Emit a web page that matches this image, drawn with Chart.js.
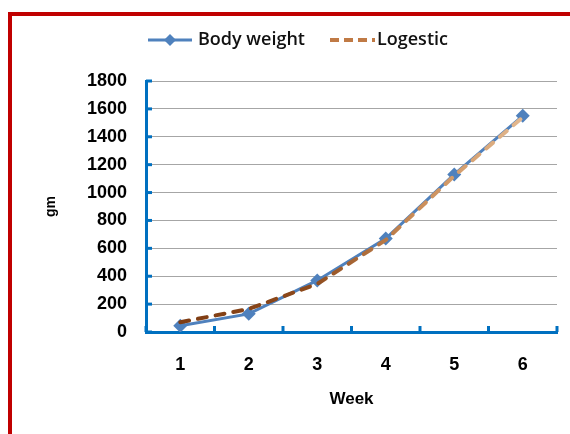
<!DOCTYPE html>
<html>
<head>
<meta charset="utf-8">
<script src="https://cdn.jsdelivr.net/npm/chart.js@4"></script>
<style>
  html, body { margin: 0; padding: 0; background: #fff; }
  #wrap { position: relative; width: 570px; height: 434px; overflow: hidden; }
  #frame { position: absolute; left: 8px; top: 12px; width: 600px; height: 460px;
           border-left: 4px solid #C00000; border-top: 4px solid #C00000; }
  canvas { position: absolute; left: 0; top: 0; }
</style>
</head>
<body>
<div id="wrap">
  <div id="frame"></div>
  <canvas id="myChart" width="570" height="434"></canvas>
</div>
<script>
// data
const weeks = ['1', '2', '3', '4', '5', '6'];
const bodyWeight = [45, 130, 370, 670, 1130, 1550];
const logestic = [70, 165, 345, 660, 1120, 1540];
const yMin = 0, yMax = 1800, yStep = 200;

const axisBlue = '#0070C0';
const tickFont = { family: 'Liberation Sans', size: 18, weight: 'bold' };

// brown -> tan gradient for the fitted curve
function logGradient(ctx) {
    const chart = ctx.chart;
    const area = chart.chartArea;
    if (!area) return '#8B4513';
    const g = chart.ctx.createLinearGradient(area.left, 0, area.right, 0);
    g.addColorStop(0, '#7A3810');
    g.addColorStop(0.4, '#8E4A1C');
    g.addColorStop(0.65, '#C98B56');
    g.addColorStop(1, '#EBC7A2');
    return g;
}

// inward tick marks + legend drawn like the original
const extras = {
    id: 'extras',
    afterDraw(chart) {
        const ctx = chart.ctx;
        const xs = chart.scales.x, ys = chart.scales.y;
        const area = chart.chartArea;
        ctx.save();
        ctx.strokeStyle = axisBlue;
        ctx.lineWidth = 3;
        const half = (xs.getPixelForValue(1) - xs.getPixelForValue(0)) / 2;
        for (let i = 0; i <= weeks.length; i++) {
            const x = xs.getPixelForValue(i) - half;
            ctx.beginPath();
            ctx.moveTo(x, area.bottom);
            ctx.lineTo(x, area.bottom - 6);
            ctx.stroke();
        }
        ys.ticks.forEach(t => {
            const y = ys.getPixelForValue(t.value);
            ctx.beginPath();
            ctx.moveTo(area.left, y);
            ctx.lineTo(area.left + 6, y);
            ctx.stroke();
        });

        // legend
        const ly = 40;
        ctx.strokeStyle = '#4F81BD';
        ctx.lineWidth = 3;
        ctx.beginPath();
        ctx.moveTo(148, ly);
        ctx.lineTo(192, ly);
        ctx.stroke();
        ctx.fillStyle = '#4F81BD';
        ctx.beginPath();
        ctx.moveTo(170, ly - 6);
        ctx.lineTo(176, ly);
        ctx.lineTo(170, ly + 6);
        ctx.lineTo(164, ly);
        ctx.closePath();
        ctx.fill();

        ctx.strokeStyle = '#C07A45';
        ctx.lineWidth = 4;
        ctx.setLineDash([9, 5]);
        ctx.beginPath();
        ctx.moveTo(330, ly);
        ctx.lineTo(375, ly);
        ctx.stroke();
        ctx.setLineDash([]);

        ctx.fillStyle = '#111';
        ctx.font = '600 18px "Open Sans"';
        ctx.textBaseline = 'middle';
        ctx.textAlign = 'left';
        ctx.fillText('Body weight', 198, ly);
        ctx.fillText('Logestic', 377, ly);
        ctx.restore();
    }
};

const data = {
    labels: weeks,
    datasets: [{
        label: 'Body weight',
        data: bodyWeight,
        borderColor: '#4F81BD',
        backgroundColor: '#4F81BD',
        borderWidth: 3,
        pointStyle: 'rectRot',
        pointRadius: 7,
        pointBorderWidth: 0,
        tension: 0,
        order: 1
    }, {
        label: 'Logestic',
        data: logestic,
        borderColor: logGradient,
        borderWidth: 4,
        borderDash: [9, 9],
        borderCapStyle: 'round',
        pointRadius: 0,
        tension: 0,
        order: 0
    }]
};

const config = {
    type: 'line',
    data: data,
    options: {
        responsive: false,
        animation: false,
        layout: { padding: { left: 30, right: 13, top: 81, bottom: 0 } },
        plugins: {
            legend: { display: false },
            tooltip: { enabled: false }
        },
        scales: {
            x: {
                offset: true,
                grid: { display: false, drawTicks: false },
                border: { color: axisBlue, width: 3 },
                ticks: { padding: 22, color: '#000', font: tickFont },
                title: {
                    display: true, text: 'Week', color: '#000',
                    font: { family: 'Liberation Sans', size: 17, weight: 'bold' },
                    padding: { top: 4, bottom: 24 }
                },
                afterFit: s => { s.height = 102; }
            },
            y: {
                min: yMin,
                max: yMax,
                grid: { color: '#A6A6A6', lineWidth: 1, drawTicks: false },
                border: { color: axisBlue, width: 3 },
                ticks: {
                    stepSize: yStep, padding: 19, color: '#000', font: tickFont,
                    callback: v => String(v)
                },
                title: {
                    display: true, text: 'gm', color: '#000',
                    font: { family: 'Liberation Sans', size: 14, weight: 'bold' },
                    padding: { top: 13, bottom: 4 }
                },
                afterFit: s => { s.width = 116; }
            }
        }
    },
    plugins: [extras]
};

const myChart = new Chart(document.getElementById('myChart'), config);
</script>
</body>
</html>
